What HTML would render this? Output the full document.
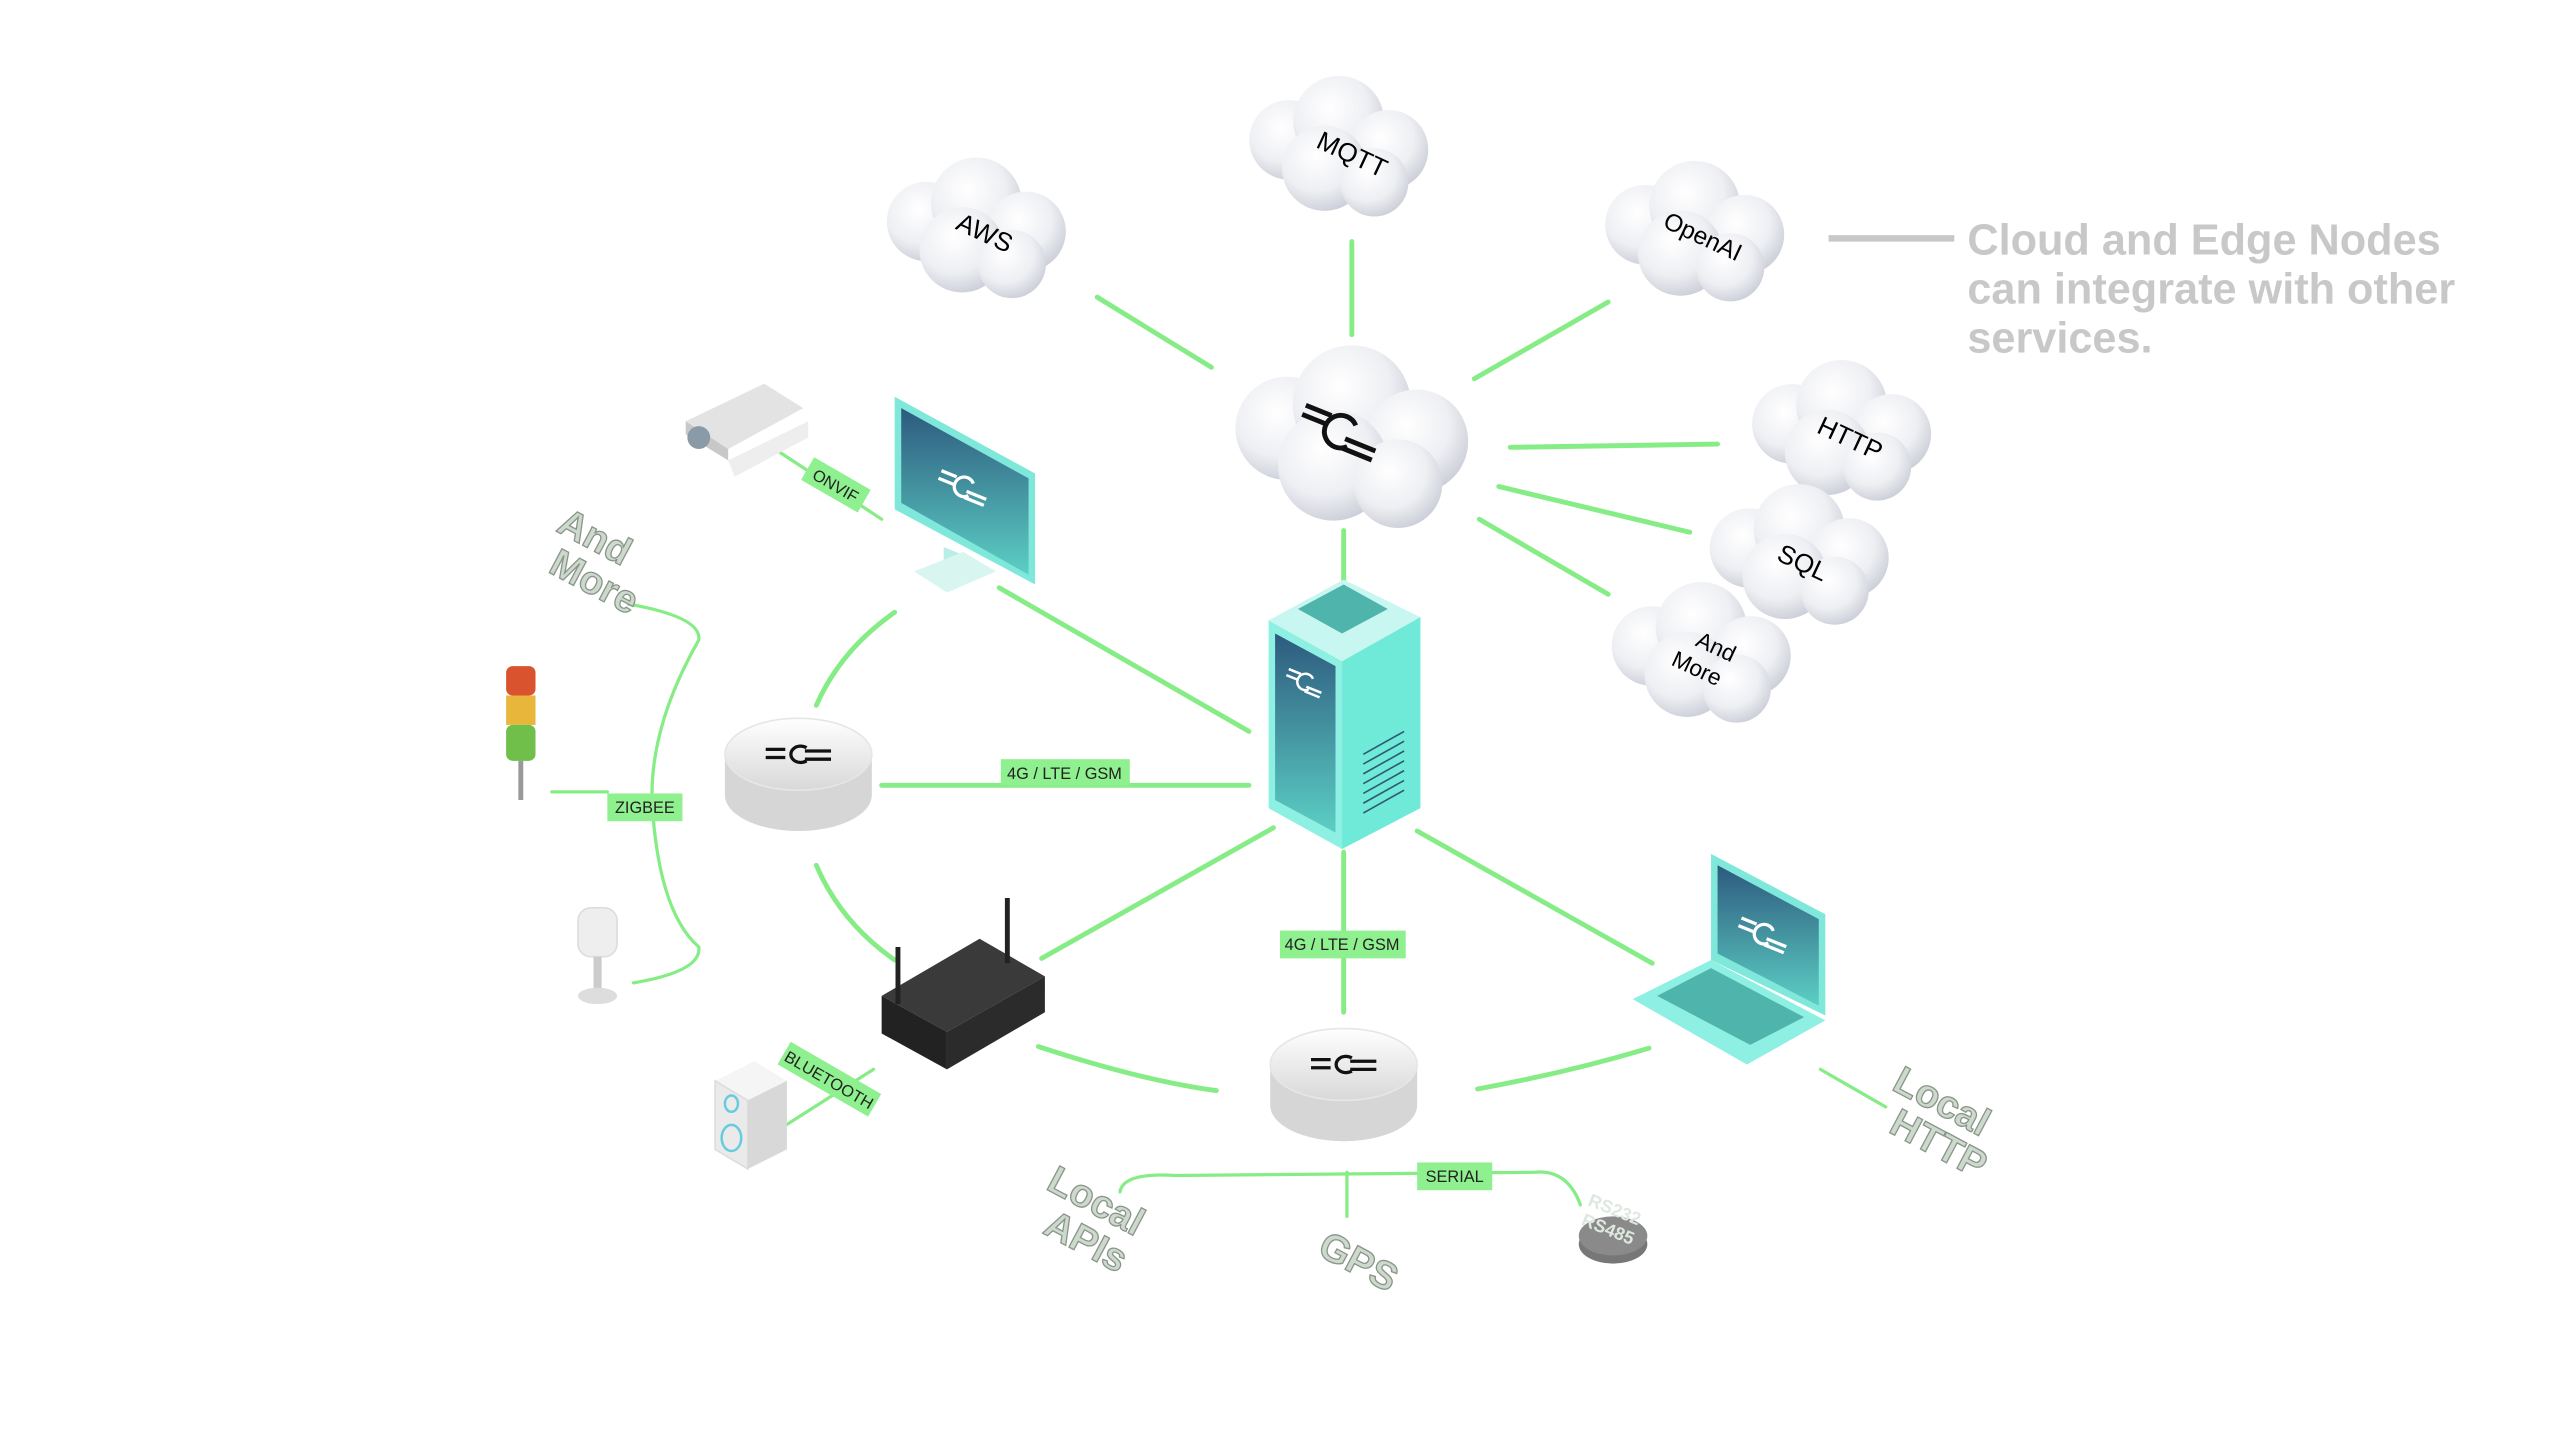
<!DOCTYPE html>
<html><head><meta charset="utf-8"><style>
html,body{margin:0;padding:0;background:#fff;}
svg{display:block}
text{font-family:"Liberation Sans",sans-serif}
</style></head><body>
<svg width="2560" height="1440" viewBox="0 0 1568 882" preserveAspectRatio="none" xmlns="http://www.w3.org/2000/svg">
<defs>
<radialGradient id="cg" cx="40%" cy="35%" r="70%"><stop offset="0" stop-color="#ffffff"/><stop offset="0.6" stop-color="#eeeff3"/><stop offset="1" stop-color="#c9ccd6"/></radialGradient>
<g id="cloud" transform="scale(0.87)">
<circle cx="-35" cy="-5" r="28" fill="url(#cg)"/>
<circle cx="0" cy="-18" r="32" fill="url(#cg)"/>
<circle cx="35" cy="2" r="28" fill="url(#cg)"/>
<circle cx="-10" cy="15" r="30" fill="url(#cg)"/>
<circle cx="25" cy="25" r="24" fill="url(#cg)"/>
</g>
<linearGradient id="scr" x1="0" y1="0" x2="0" y2="1"><stop offset="0" stop-color="#2d5a7e"/><stop offset="1" stop-color="#5ccfc4"/></linearGradient>
<linearGradient id="disk" x1="0" y1="0" x2="0" y2="1"><stop offset="0" stop-color="#fff"/><stop offset="1" stop-color="#d8d8d8"/></linearGradient>
</defs>

<g stroke="#86ec86" stroke-width="3" fill="none" stroke-linecap="round">
<line x1="672" y1="182" x2="742" y2="225"/>
<line x1="828" y1="148" x2="828" y2="205"/>
<line x1="903" y1="232" x2="985" y2="185"/>
<line x1="925" y1="274" x2="1052" y2="272"/>
<line x1="918" y1="298" x2="1035" y2="326"/>
<line x1="906" y1="318" x2="985" y2="364"/>
<line x1="823" y1="325" x2="823" y2="372"/>
<line x1="612" y1="360" x2="765" y2="448"/>
<line x1="540" y1="481" x2="765" y2="481"/>
<line x1="638" y1="587" x2="780" y2="507"/>
<line x1="823" y1="522" x2="823" y2="620"/>
<line x1="868" y1="509" x2="1012" y2="590"/>
<path d="M500 432 Q515 398 548 375"/>
<path d="M500 530 Q515 565 548 588"/>
<path d="M636 641 Q700 662 745 668"/>
<path d="M905 667 Q960 657 1010 642"/>
<path d="M385 370 Q430 378 428 392 Q395 450 400 500 Q405 560 428 580 Q430 595 388 602" stroke-width="2"/>
<line x1="338" y1="485" x2="372" y2="485" stroke-width="2"/>
<path d="M686 730 Q688 718 720 720 L940 718 Q960 716 968 738" stroke-width="2"/>
<line x1="825" y1="718" x2="825" y2="745" stroke-width="2"/>
<line x1="1115" y1="655" x2="1155" y2="678" stroke-width="2"/>
<line x1="480" y1="690" x2="535" y2="655" stroke-width="2"/>
<line x1="470" y1="272" x2="540" y2="318" stroke-width="2"/>
</g>

<g transform="translate(598,140)"><use href="#cloud"/><text x="5" y="8" font-size="16" transform="rotate(25 5 3)" text-anchor="middle">AWS</text></g>
<g transform="translate(820,90)"><use href="#cloud"/><text x="8" y="10" font-size="16" transform="rotate(25 8 5)" text-anchor="middle">MQTT</text></g>
<g transform="translate(1038,142)"><use href="#cloud"/><text x="5" y="8" font-size="15" transform="rotate(25 5 3)" text-anchor="middle">OpenAI</text></g>
<g transform="translate(1128,264)"><use href="#cloud"/><text x="5" y="10" font-size="16" transform="rotate(25 5 5)" text-anchor="middle">HTTP</text></g>
<g transform="translate(1102,340)"><use href="#cloud"/><text x="2" y="10" font-size="16" transform="rotate(25 2 5)" text-anchor="middle">SQL</text></g>
<g transform="translate(1042,400)"><use href="#cloud"/><text x="5" y="0" font-size="14" transform="rotate(25 5 5)" text-anchor="middle">And</text><text x="0" y="17" font-size="14" transform="rotate(25 5 5)" text-anchor="middle">More</text></g>
<g transform="translate(828,268) scale(1.3)"><use href="#cloud"/></g>
<g transform="translate(820,265) rotate(22)" stroke="#111" stroke-width="3" fill="none"><line x1="-25" y1="-8" x2="-8" y2="-8"/><line x1="-25" y1="-2" x2="-8" y2="-2"/><path d="M8 -8 A10 10 0 1 0 8 6"/><line x1="5" y1="2" x2="25" y2="2"/><line x1="5" y1="8" x2="25" y2="8"/></g>

<line x1="1120" y1="146" x2="1197" y2="146" stroke="#c8c8c8" stroke-width="4"/>
<g fill="#c8c8c8" font-weight="bold" font-size="26.5"><text x="1205" y="156">Cloud and Edge Nodes</text><text x="1205" y="186">can integrate with other</text><text x="1205" y="216">services.</text></g>

<polygon points="777,380 823,355 870,378 822,405" fill="#c8f6f1"/>
<polygon points="795,373 823,358 850,373 822,388" fill="#4fb5ac"/>
<polygon points="777,380 822,405 822,520 777,495" fill="#8ef0e2"/>
<polygon points="781,388 818,408 818,510 781,490" fill="url(#scr)"/>
<polygon points="822,405 870,378 870,495 822,520" fill="#70ead8"/>
<g stroke="#2e5a74" stroke-width="1"><line x1="835" y1="462" x2="860" y2="448"/><line x1="835" y1="468" x2="860" y2="454"/><line x1="835" y1="474" x2="860" y2="460"/><line x1="835" y1="480" x2="860" y2="466"/><line x1="835" y1="486" x2="860" y2="472"/><line x1="835" y1="492" x2="860" y2="478"/><line x1="835" y1="498" x2="860" y2="484"/></g>
<g transform="translate(799,418) rotate(22)" stroke="#fff" stroke-width="1.5" fill="none"><line x1="-12" y1="-4" x2="-4" y2="-4"/><line x1="-12" y1="0" x2="-4" y2="0"/><path d="M4 -4 A5 5 0 1 0 4 3"/><line x1="2" y1="2" x2="12" y2="2"/><line x1="2" y1="5" x2="12" y2="5"/></g>

<g transform="translate(489,462)"><path d="M-45 0 L-45 25 A45 22 0 0 0 45 25 L45 0 Z" fill="#d6d6d6"/><ellipse cx="0" cy="0" rx="45" ry="22" fill="url(#disk)" stroke="#e6e6e6"/><g stroke="#111" stroke-width="2" fill="none"><line x1="-20" y1="-3" x2="-8" y2="-3"/><line x1="-20" y1="2" x2="-8" y2="2"/><path d="M5 -4 A6 5 0 1 0 5 4"/><line x1="4" y1="-2" x2="20" y2="-2"/><line x1="4" y1="3" x2="20" y2="3"/></g></g>
<g transform="translate(823,652)"><path d="M-45 0 L-45 25 A45 22 0 0 0 45 25 L45 0 Z" fill="#d6d6d6"/><ellipse cx="0" cy="0" rx="45" ry="22" fill="url(#disk)" stroke="#e6e6e6"/><g stroke="#111" stroke-width="2" fill="none"><line x1="-20" y1="-3" x2="-8" y2="-3"/><line x1="-20" y1="2" x2="-8" y2="2"/><path d="M5 -4 A6 5 0 1 0 5 4"/><line x1="4" y1="-2" x2="20" y2="-2"/><line x1="4" y1="3" x2="20" y2="3"/></g></g>

<polygon points="548,243 634,290 634,358 548,312" fill="#7fe8da"/>
<polygon points="552,250 630,293 630,352 552,308" fill="url(#scr)"/>
<polygon points="578,335 590,340 590,355 578,350" fill="#b9eee6"/>
<polygon points="560,350 590,338 610,350 580,363" fill="#d8f5f0"/>
<g transform="translate(590,298) rotate(22)" stroke="#fff" stroke-width="2" fill="none"><line x1="-16" y1="-4" x2="-6" y2="-4"/><line x1="-16" y1="1" x2="-6" y2="1"/><path d="M5 -4 A6 6 0 1 0 5 4"/><line x1="3" y1="2" x2="16" y2="2"/><line x1="3" y1="6" x2="16" y2="6"/></g>

<polygon points="1048,523 1118,560 1118,622 1048,588" fill="#7fe8da"/>
<polygon points="1052,530 1114,563 1114,616 1052,584" fill="url(#scr)"/>
<polygon points="1000,612 1048,588 1118,625 1070,652" fill="#8ef0e2"/>
<polygon points="1015,610 1048,593 1105,623 1072,640" fill="#4fb5ac"/>
<g transform="translate(1080,572) rotate(22)" stroke="#fff" stroke-width="2" fill="none"><line x1="-16" y1="-4" x2="-6" y2="-4"/><line x1="-16" y1="1" x2="-6" y2="1"/><path d="M5 -4 A6 6 0 1 0 5 4"/><line x1="3" y1="2" x2="16" y2="2"/><line x1="3" y1="6" x2="16" y2="6"/></g>

<polygon points="540,610 600,575 640,598 580,632" fill="#3a3a3a"/>
<polygon points="540,610 580,632 580,655 540,633" fill="#222"/>
<polygon points="580,632 640,598 640,620 580,655" fill="#2b2b2b"/>
<line x1="617" y1="550" x2="617" y2="590" stroke="#222" stroke-width="3"/>
<line x1="550" y1="580" x2="550" y2="615" stroke="#222" stroke-width="3"/>

<polygon points="420,258 468,235 492,250 446,275" fill="#e3e3e3"/>
<polygon points="420,258 446,275 446,282 420,266" fill="#c8c8c8"/>
<circle cx="428" cy="268" r="7" fill="#8a9aa6"/>
<polygon points="446,282 495,258 495,268 450,292" fill="#eee"/>

<rect x="310" y="408" width="18" height="18" rx="4" fill="#d9532e"/>
<rect x="310" y="426" width="18" height="18" fill="#e8b63a"/>
<rect x="310" y="444" width="18" height="22" rx="4" fill="#6fbf4a"/>
<line x1="319" y1="466" x2="319" y2="490" stroke="#999" stroke-width="3"/>

<rect x="354" y="556" width="24" height="30" rx="8" fill="#eee" stroke="#ddd"/>
<line x1="366" y1="586" x2="366" y2="608" stroke="#ccc" stroke-width="5"/>
<ellipse cx="366" cy="610" rx="12" ry="5" fill="#ddd"/>

<polygon points="438,662 462,650 482,662 458,674" fill="#f5f5f5"/>
<polygon points="438,662 458,674 458,716 438,704" fill="#eaeaea" stroke="#ddd"/>
<polygon points="458,674 482,662 482,704 458,716" fill="#d8d8d8"/>
<ellipse cx="448" cy="676" rx="4" ry="5" fill="none" stroke="#6cd" stroke-width="1.5"/>
<ellipse cx="448" cy="697" rx="6" ry="8" fill="none" stroke="#6cd" stroke-width="1.5"/>

<ellipse cx="988" cy="762" rx="21" ry="12" fill="#777"/>
<ellipse cx="988" cy="757" rx="21" ry="12" fill="#8a8a8a"/>
<g fill="#dfe8df" font-weight="bold" font-size="11"><text x="972" y="738" transform="rotate(22 972 738)">RS232</text><text x="968" y="750" transform="rotate(22 968 750)">RS485</text></g>

<g fill="#ccd9cc" stroke="#8a958a" stroke-width="0.8" font-weight="bold" font-size="24">
<text x="340" y="325" transform="rotate(28 340 325)">And</text><text x="335" y="350" transform="rotate(28 335 350)">More</text>
<text x="640" y="728" transform="rotate(28 640 728)">Local</text><text x="638" y="755" transform="rotate(28 638 755)">APIs</text>
<text x="806" y="768" transform="rotate(28 806 768)">GPS</text>
<text x="1158" y="667" transform="rotate(28 1158 667)">Local</text><text x="1156" y="693" transform="rotate(28 1156 693)">HTTP</text>
</g>

<g font-size="10" fill="#222">
<rect x="613" y="465" width="79" height="16" fill="#8ef08e"/><text x="652" y="477" text-anchor="middle">4G / LTE / GSM</text>
<rect x="784" y="570" width="77" height="17" fill="#8ef08e"/><text x="822" y="582" text-anchor="middle">4G / LTE / GSM</text>
<rect x="372" y="486" width="46" height="17" fill="#8ef08e"/><text x="395" y="498" text-anchor="middle">ZIGBEE</text>
<rect x="868" y="712" width="46" height="17" fill="#8ef08e"/><text x="891" y="724" text-anchor="middle">SERIAL</text>
<g transform="translate(512,297) rotate(30)"><rect x="-20" y="-8" width="40" height="16" fill="#8ef08e"/><text x="0" y="4" text-anchor="middle">ONVIF</text></g>
<g transform="translate(508,661) rotate(30)"><rect x="-32" y="-8" width="64" height="16" fill="#8ef08e"/><text x="0" y="4" text-anchor="middle">BLUETOOTH</text></g>
</g>
</svg>
</body></html>
